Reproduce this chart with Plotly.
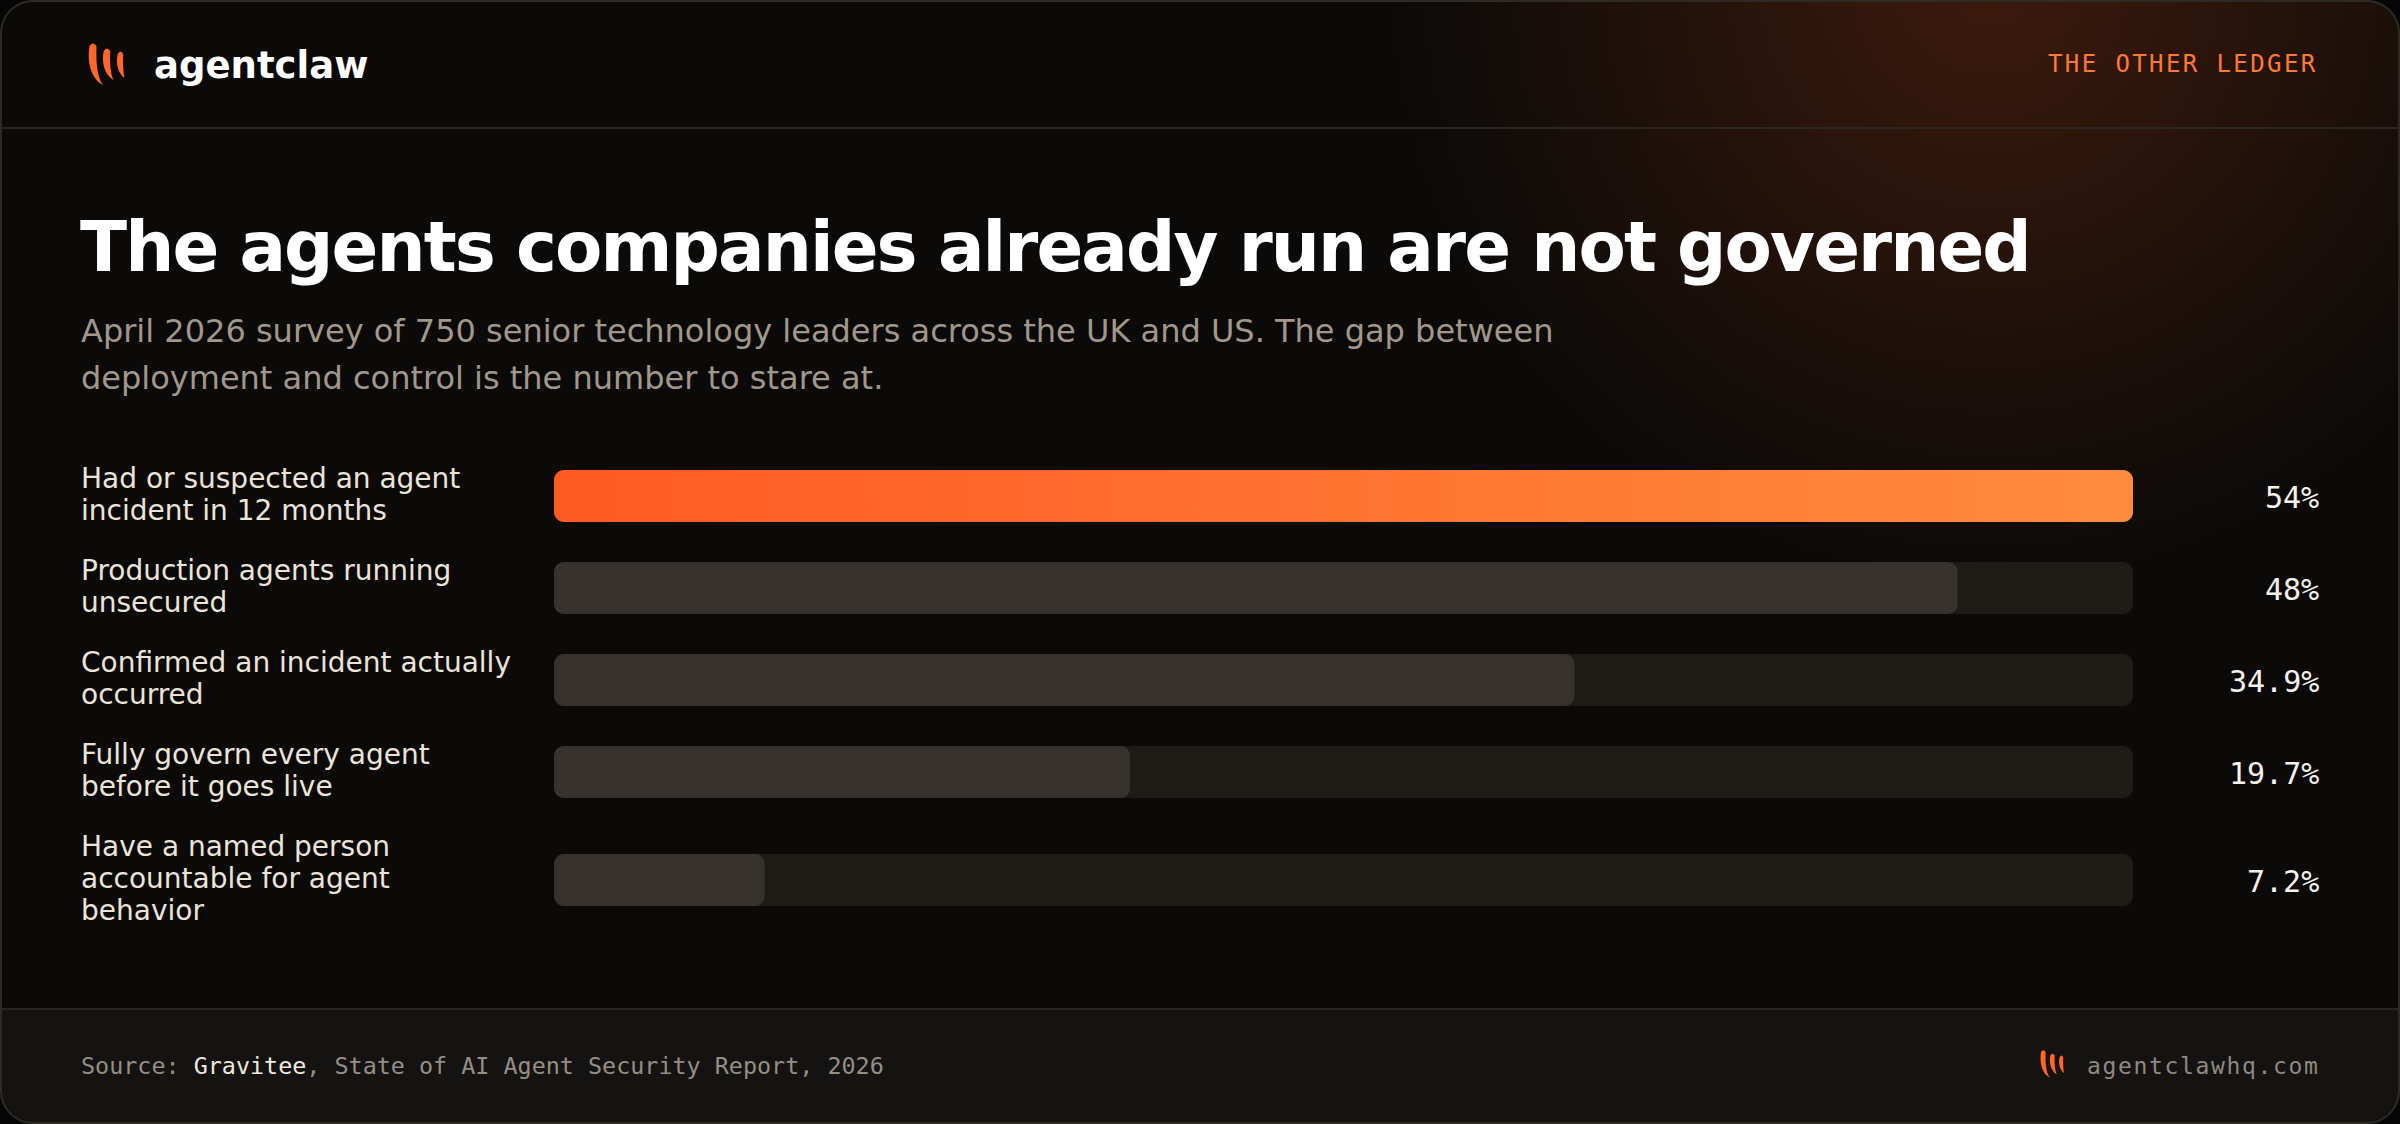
import plotly.graph_objects as go

# ---------------- data ----------------
categories = [
    "Had or suspected an agent<br>incident in 12 months",
    "Production agents running<br>unsecured",
    "Confirmed an incident actually<br>occurred",
    "Fully govern every agent<br>before it goes live",
    "Have a named person<br>accountable for agent<br>behavior",
]
values = [54, 48, 34.9, 19.7, 7.2]
value_labels = ["54%", "48%", "34.9%", "19.7%", "7.2%"]
highlight = [True, False, False, False, False]

brand = "agentclaw"
kicker = "THE OTHER LEDGER"
title = "The agents companies already run are not governed"
subtitle_lines = [
    "April 2026 survey of 750 senior technology leaders across the UK and US. The gap between",
    "deployment and control is the number to stare at.",
]
source_prefix = "Source: "
source_name = "Gravitee"
source_rest = ", State of AI Agent Security Report, 2026"
site = "agentclawhq.com"

# ---------------- style / layout ----------------
W, H = 2400, 1124
OUTER = "#060606"
CARD_BG = "#0b0a09"
FOOTER_BG = "#141311"
BORDER = "#2e2b25"
DIVIDER = "#2a2722"
TRACK = "#1f1c18"
FILL = "#37322d"
ORANGE_L = "#ff5a22"
ORANGE_R = "#ff8c3d"
LABEL_C = "#ece4d8"
VALUE_C = "#f6f1ea"
SUB_C = "#a1978a"
MUTED = "#958e84"
KICK_C = "#ff7a35"
GLOW_C = "#3d1a0c"
SANS = "DejaVu Sans"
MONO = "DejaVu Sans Mono"

LEFT = 79
RIGHT = 2318
TRACK_L, TRACK_R = 554, 2133
ROW_TOP = 464
LINE_H = 32
ROW_GAP = 28
BAR_H = 52
RADIUS = 10
HEADER_Y = 128
FOOTER_Y = 1009
CARD_R = 32

vmax = max(values)
px_per_unit = (TRACK_R - TRACK_L) / vmax
x2_range = [-TRACK_L / px_per_unit, (W - TRACK_L) / px_per_unit]

# row centres from label line counts
n_lines = [c.count("<br>") + 1 for c in categories]
centers = []
top = ROW_TOP
for n in n_lines:
    h = max(BAR_H, n * LINE_H)
    centers.append(top + h / 2)
    top += h + ROW_GAP


def rrect(x0, x1, yc, h, r_px):
    """rounded rectangle polygon in (value-units, pixel-y) coordinates"""
    import math
    rx = r_px / px_per_unit
    rx = min(rx, (x1 - x0) / 2)
    ry = min(r_px, h / 2)
    t, b = yc - h / 2, yc + h / 2
    xs, ys = [], []
    def arc(cx, cy, a0, a1, n=8):
        for i in range(n + 1):
            a = a0 + (a1 - a0) * i / n
            xs.append(cx + rx * math.cos(a))
            ys.append(cy + ry * math.sin(a))
    pi = math.pi
    arc(x1 - rx, t + ry, -pi / 2, 0)
    arc(x1 - rx, b - ry, 0, pi / 2)
    arc(x0 + rx, b - ry, pi / 2, pi)
    arc(x0 + rx, t + ry, pi, 3 * pi / 2)
    xs.append(xs[0]); ys.append(ys[0])
    return xs, ys


def multi(rects):
    X, Y = [], []
    for xs, ys in rects:
        X += xs + [None]
        Y += ys + [None]
    return X, Y


fig = go.Figure()

# glow in the top-right corner (radial: gradient colour is the centre)
fig.add_trace(go.Scatter(
    x=[1990], y=[-20], mode="markers", xaxis="x", yaxis="y",
    marker=dict(size=1200, color=CARD_BG, line=dict(width=0),
                gradient=dict(type="radial", color=GLOW_C)),
    hoverinfo="skip", showlegend=False))

# tracks
tx, ty = multi([rrect(0, vmax, c, BAR_H, RADIUS) for c in centers])
fig.add_trace(go.Scatter(x=tx, y=ty, xaxis="x2", yaxis="y", mode="none",
                         fill="toself", fillcolor=TRACK, hoverinfo="skip",
                         showlegend=False))
# grey fills
gx, gy = multi([rrect(0, v, c, BAR_H, RADIUS)
                for v, c, hl in zip(values, centers, highlight) if not hl])
fig.add_trace(go.Scatter(x=gx, y=gy, xaxis="x2", yaxis="y", mode="none",
                         fill="toself", fillcolor=FILL, hoverinfo="skip",
                         showlegend=False))
# highlighted bar with gradient
for v, c, hl in zip(values, centers, highlight):
    if hl:
        hx, hy = rrect(0, v, c, BAR_H, RADIUS)
        fig.add_trace(go.Scatter(
            x=hx, y=hy, xaxis="x2", yaxis="y", mode="none", fill="toself",
            fillgradient=dict(type="horizontal",
                              colorscale=[[0, ORANGE_L], [1, ORANGE_R]]),
            hoverinfo="skip", showlegend=False))

ann = []
# labels, one annotation per line for exact line height
for cat, c in zip(categories, centers):
    lines = cat.split("<br>")
    n = len(lines)
    for i, ln in enumerate(lines):
        yy = c + (i - (n - 1) / 2) * LINE_H - 2
        ann.append(dict(x=LEFT, y=yy, xref="x", yref="y", text=ln,
                        showarrow=False, xanchor="left", yanchor="middle",
                        font=dict(family=SANS, size=28, color=LABEL_C)))
# values
for lab, c in zip(value_labels, centers):
    ann.append(dict(x=RIGHT + 3, y=c + 1, xref="x", yref="y", text=lab,
                    showarrow=False, xanchor="right", yanchor="middle",
                    font=dict(family=MONO, size=30, color=VALUE_C)))

# header
ann.append(dict(x=152, y=65, xref="x", yref="y", text="<b>%s</b>" % brand,
                showarrow=False, xanchor="left", yanchor="middle",
                font=dict(family=SANS, size=37, color="#ffffff")))
ann.append(dict(x=RIGHT + 2, y=64, xref="x", yref="y",
                text='<span style="letter-spacing:2.4px">%s</span>' % kicker,
                showarrow=False, xanchor="right", yanchor="middle",
                font=dict(family=MONO, size=24, color=KICK_C)))
# title / subtitle
ann.append(dict(x=LEFT - 1, y=247, xref="x", yref="y",
                text='<span style="letter-spacing:-1.9px"><b>%s</b></span>' % title,
                showarrow=False, xanchor="left", yanchor="middle",
                font=dict(family=SANS, size=69, color="#ffffff")))
for i, ln in enumerate(subtitle_lines):
    ann.append(dict(x=LEFT, y=331 + 47 * i, xref="x", yref="y", text=ln,
                    showarrow=False, xanchor="left", yanchor="middle",
                    font=dict(family=SANS, size=32, color=SUB_C)))
# footer
ann.append(dict(x=LEFT, y=1066, xref="x", yref="y",
                text='%s<span style="color:#f0e9df">%s</span>%s' % (source_prefix, source_name, source_rest),
                showarrow=False, xanchor="left", yanchor="middle",
                font=dict(family=MONO, size=23.4, color=MUTED)))
ann.append(dict(x=RIGHT + 3, y=1066, xref="x", yref="y",
                text='<span style="letter-spacing:1.65px">%s</span>' % site,
                showarrow=False, xanchor="right", yanchor="middle",
                font=dict(family=MONO, size=23, color="#8f8980")))


# ---------------- shapes ----------------
def rounded_path(x0, y0, x1, y1, rt, rb):
    k = 0.5523
    return (f"M {x0+rt},{y0} L {x1-rt},{y0} "
            f"C {x1-rt+k*rt},{y0} {x1},{y0+rt-k*rt} {x1},{y0+rt} "
            f"L {x1},{y1-rb} "
            f"C {x1},{y1-rb+k*rb} {x1-rb+k*rb},{y1} {x1-rb},{y1} "
            f"L {x0+rb},{y1} "
            f"C {x0+rb-k*rb},{y1} {x0},{y1-rb+k*rb} {x0},{y1-rb} "
            f"L {x0},{y0+rt} "
            f"C {x0},{y0+rt-k*rt} {x0+rt-k*rt},{y0} {x0+rt},{y0} Z")


def corner_masks(x0, y0, x1, y1, r):
    k = 0.5523
    ps = [
        f"M {x0},{y0} L {x0+r},{y0} C {x0+r-k*r},{y0} {x0},{y0+r-k*r} {x0},{y0+r} Z",
        f"M {x1},{y0} L {x1-r},{y0} C {x1-r+k*r},{y0} {x1},{y0+r-k*r} {x1},{y0+r} Z",
        f"M {x1},{y1} L {x1},{y1-r} C {x1},{y1-r+k*r} {x1-r+k*r},{y1} {x1-r},{y1} Z",
        f"M {x0},{y1} L {x0},{y1-r} C {x0},{y1-r+k*r} {x0+r-k*r},{y1} {x0+r},{y1} Z",
    ]
    return ps


def claw_logo(ox, oy, s):
    claws = [(5, 0, 15, 42, 7), (19, 5, 25.5, 37, 6.5), (32.5, 8, 36.5, 35, 5.5)]
    paths = []
    for cx, tyy, txx, byy, t in claws:
        h = byy - tyy
        L, R = cx - t / 2, cx + t / 2
        pts = [
            ("M", [(L, tyy + 3)]),
            ("C", [(L - 2.5, tyy + 0.45 * h), (L + 0.1 * (txx - L), tyy + 0.85 * h), (txx, byy)]),
            ("C", [(R + 0.0 * (txx - R), tyy + 0.8 * h), (R - 0.5, tyy + 0.4 * h), (R, tyy + 3)]),
            ("Q", [(cx, tyy - 2), (L, tyy + 3)]),
        ]
        d = ""
        for cmd, pp in pts:
            d += cmd + " " + " ".join(f"{ox + s*px:.2f},{oy + s*py:.2f}" for px, py in pp) + " "
        paths.append(d + "Z")
    return paths


X0, Y0, X1, Y1 = 1, 1, W - 1, H - 1
shapes = [
    dict(type="path", path=rounded_path(X0, Y0, X1, Y1, CARD_R, CARD_R), xref="x", yref="y",
         fillcolor=CARD_BG, line=dict(width=0), layer="below"),
    dict(type="path", path=rounded_path(X0, FOOTER_Y, X1, Y1, 0, CARD_R), xref="x", yref="y",
         fillcolor=FOOTER_BG, line=dict(width=0), layer="below"),
]
for p in corner_masks(0, 0, W, H, CARD_R + 1):
    shapes.append(dict(type="path", path=p, xref="x", yref="y", fillcolor=OUTER,
                       line=dict(width=0), layer="above"))
shapes += [
    dict(type="line", x0=X0, x1=X1, y0=HEADER_Y, y1=HEADER_Y, xref="x", yref="y",
         line=dict(color=DIVIDER, width=2), layer="above"),
    dict(type="line", x0=X0, x1=X1, y0=FOOTER_Y, y1=FOOTER_Y, xref="x", yref="y",
         line=dict(color=DIVIDER, width=2), layer="above"),
    dict(type="path", path=rounded_path(X0, Y0, X1, Y1, CARD_R, CARD_R), xref="x", yref="y",
         fillcolor="rgba(0,0,0,0)", line=dict(color=BORDER, width=2), layer="above"),
]
for p in claw_logo(88, 43, 1.0) + claw_logo(2040, 1050, 0.66):
    shapes.append(dict(type="path", path=p, xref="x", yref="y", fillcolor="#ff6628",
                       line=dict(width=0), layer="above"))

fig.update_layout(
    width=W, height=H, autosize=False,
    margin=dict(l=0, r=0, t=0, b=0, pad=0),
    paper_bgcolor=OUTER, plot_bgcolor="rgba(0,0,0,0)",
    showlegend=False,
    xaxis=dict(domain=[0, 1], range=[0, W], visible=False, fixedrange=True),
    xaxis2=dict(range=x2_range, overlaying="x", anchor="y", visible=False, fixedrange=True),
    yaxis=dict(domain=[0, 1], range=[H, 0], visible=False, fixedrange=True),
    annotations=ann, shapes=shapes,
)

fig.write_html("out.html", config={"displayModeBar": False, "staticPlot": True},
               post_script="document.body.style.margin='0';document.body.style.background='%s';" % OUTER)
